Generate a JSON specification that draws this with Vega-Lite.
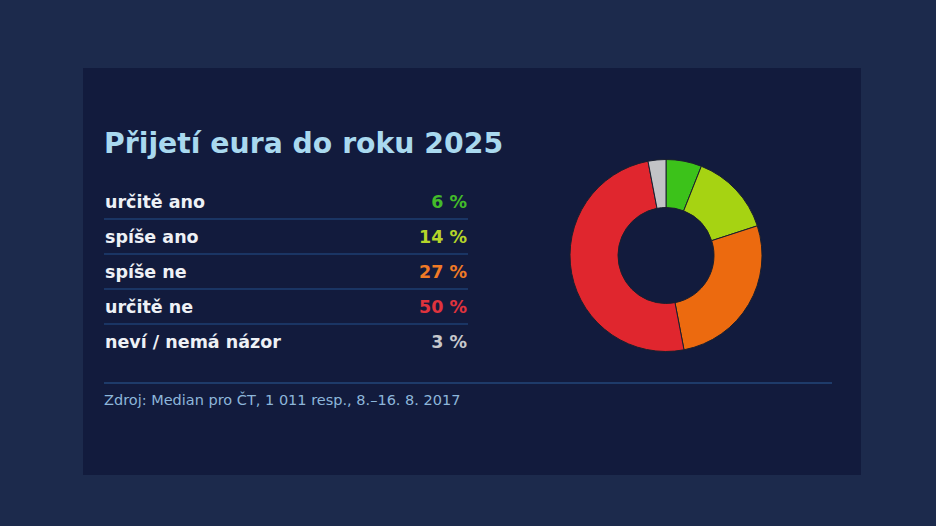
{
  "$schema": "https://vega.github.io/schema/vega-lite/v6.json",
  "width": 778,
  "height": 407,
  "autosize": {"type": "none"},
  "padding": {"left": 83, "top": 68, "right": 75, "bottom": 51},
  "background": "#1c2a4c",
  "view": {"fill": "#121b3d", "stroke": null},
  "config": {"font": "DejaVu Sans"},
  "datasets": {
    "answers": [
      {"row": 1, "label": "určitě ano", "value": 6, "pct": "6 %"},
      {"row": 2, "label": "spíše ano", "value": 14, "pct": "14 %"},
      {"row": 3, "label": "spíše ne", "value": 27, "pct": "27 %"},
      {"row": 4, "label": "určitě ne", "value": 50, "pct": "50 %"},
      {"row": 5, "label": "neví / nemá názor", "value": 3, "pct": "3 %"}
    ]
  },
  "resolve": {"scale": {"color": "independent", "y": "shared"}},
  "layer": [
    {
      "data": {"values": [{"t": "Přijetí eura do roku 2025"}]},
      "mark": {"type": "text", "align": "left", "baseline": "alphabetic", "fontSize": 28.3, "fontWeight": "bold", "color": "#a9d9ef"},
      "encoding": {"text": {"field": "t"}, "x": {"value": 21}, "y": {"value": 85}}
    },
    {
      "data": {"name": "answers"},
      "transform": [{"filter": "datum.row < 5"}],
      "mark": {"type": "rule", "yOffset": 11, "strokeWidth": 1.2, "color": "#22508c"},
      "encoding": {
        "y": {"field": "row", "type": "quantitative", "scale": {"domain": [1, 5], "range": [140, 280], "nice": false, "zero": false}, "axis": null},
        "x": {"value": 21},
        "x2": {"value": 385}
      }
    },
    {
      "data": {"name": "answers"},
      "mark": {"type": "text", "align": "left", "baseline": "alphabetic", "fontSize": 17.5, "fontWeight": "bold", "color": "#eef1f6"},
      "encoding": {
        "y": {"field": "row", "type": "quantitative", "scale": {"domain": [1, 5], "range": [140, 280], "nice": false, "zero": false}, "axis": null},
        "x": {"value": 22},
        "text": {"field": "label"}
      }
    },
    {
      "data": {"name": "answers"},
      "mark": {"type": "text", "align": "right", "baseline": "alphabetic", "fontSize": 17.5, "fontWeight": "bold"},
      "encoding": {
        "y": {"field": "row", "type": "quantitative", "scale": {"domain": [1, 5], "range": [140, 280], "nice": false, "zero": false}, "axis": null},
        "x": {"value": 384},
        "text": {"field": "pct"},
        "color": {"field": "label", "type": "nominal", "legend": null,
          "scale": {"domain": ["určitě ano", "spíše ano", "spíše ne", "určitě ne", "neví / nemá názor"],
                    "range": ["#43bb2a", "#b5d52a", "#ef7a26", "#e0333d", "#c6c8cc"]}}
      }
    },
    {
      "data": {"name": "answers"},
      "mark": {"type": "arc", "outerRadius": 96, "innerRadius": 48, "stroke": "#1a1f2e", "strokeWidth": 1},
      "encoding": {
        "theta": {"field": "value", "type": "quantitative", "stack": true},
        "order": {"field": "row", "type": "quantitative", "sort": "ascending"},
        "x": {"value": 583},
        "y": {"value": 187.5},
        "color": {"field": "label", "type": "nominal", "legend": null,
          "scale": {"domain": ["určitě ano", "spíše ano", "spíše ne", "určitě ne", "neví / nemá názor"],
                    "range": ["#3cc21a", "#a6d312", "#ec6a0f", "#e0262e", "#c2c3c6"]}}
      }
    },
    {
      "data": {"values": [{"s": 1}]},
      "mark": {"type": "rule", "strokeWidth": 1.2, "color": "#2a5c98"},
      "encoding": {"x": {"value": 21}, "x2": {"value": 749}, "y": {"value": 315}}
    },
    {
      "data": {"values": [{"t": "Zdroj: Median pro ČT, 1 011 resp., 8.–16. 8. 2017"}]},
      "mark": {"type": "text", "align": "left", "baseline": "alphabetic", "fontSize": 14.5, "color": "#8db6da"},
      "encoding": {"text": {"field": "t"}, "x": {"value": 21}, "y": {"value": 337}}
    }
  ]
}
